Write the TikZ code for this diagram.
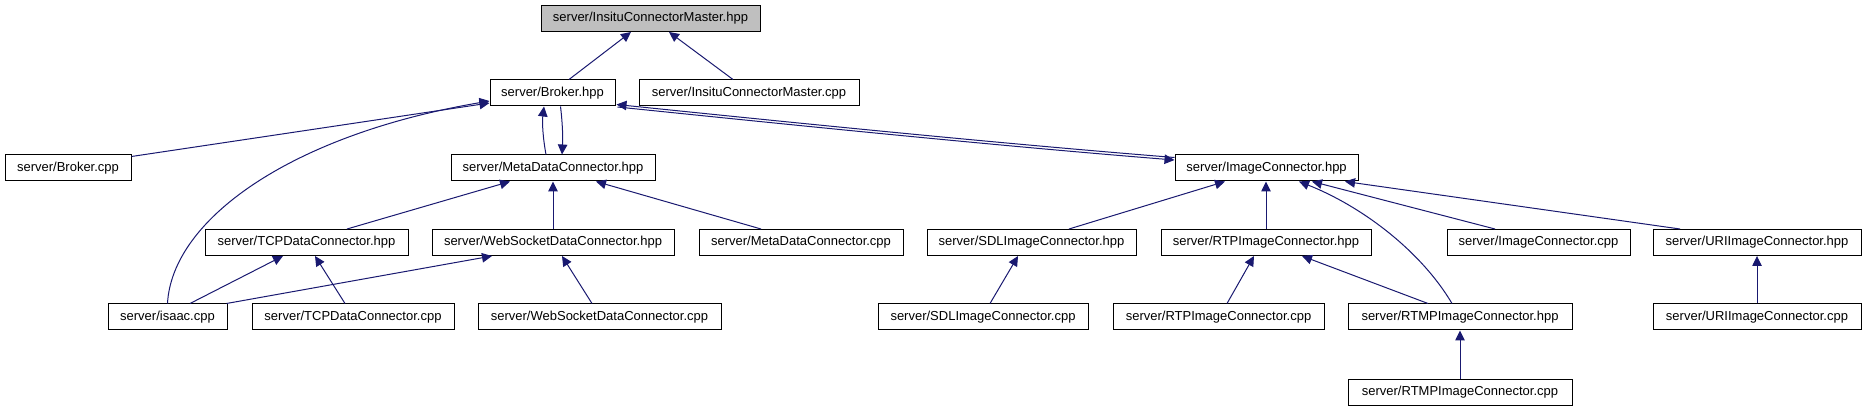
\documentclass[tikz,border=0pt]{standalone}
\usepackage{fontspec}
\setmainfont{Liberation Sans}
\usetikzlibrary{arrows.meta,calc}
\definecolor{edgeblue}{HTML}{191970}
\definecolor{rootgray}{HTML}{BFBFBF}
\begin{document}
\begin{tikzpicture}[x=1pt,y=-1pt,
  box/.style={draw=black, line width=1pt, fill=white, minimum height=26pt, inner sep=0pt, font=\fontsize{13}{15}\selectfont},
  edge/.style={draw=edgeblue, line width=1pt, -{Triangle[length=10pt,width=9.5pt]}}]
\useasboundingbox (0,0) rectangle (1865,411);
% row 1
\node[box,fill=rootgray,minimum width=219pt] (icmh) at (650.5,18.5) {server/InsituConnectorMaster.hpp};
% row 2
\node[box,minimum width=125pt] (brokerh) at (552.5,93) {server/Broker.hpp};
\node[box,minimum width=220pt] (icmc) at (749,93) {server/InsituConnectorMaster.cpp};
% row 3
\node[box,minimum width=126pt] (brokerc) at (68,168) {server/Broker.cpp};
\node[box,minimum width=204pt] (mdch) at (553,168) {server/MetaDataConnector.hpp};
\node[box,minimum width=183pt] (ich) at (1266.5,168) {server/ImageConnector.hpp};
% row 4
\node[box,minimum width=203pt] (tcph) at (306.5,242.5) {server/TCPDataConnector.hpp};
\node[box,minimum width=242pt] (wsh) at (553,242.5) {server/WebSocketDataConnector.hpp};
\node[box,minimum width=204pt] (mdcc) at (801,242.5) {server/MetaDataConnector.cpp};
\node[box,minimum width=209pt] (sdlh) at (1031.5,242.5) {server/SDLImageConnector.hpp};
\node[box,minimum width=210pt] (rtph) at (1266,242.5) {server/RTPImageConnector.hpp};
\node[box,minimum width=183pt] (icc) at (1538.5,242.5) {server/ImageConnector.cpp};
\node[box,minimum width=208pt] (urih) at (1757,242.5) {server/URIImageConnector.hpp};
% row 5
\node[box,minimum width=119pt] (isaac) at (167.5,317) {server/isaac.cpp};
\node[box,minimum width=202pt] (tcpc) at (353,317) {server/TCPDataConnector.cpp};
\node[box,minimum width=243pt] (wsc) at (599.5,317) {server/WebSocketDataConnector.cpp};
\node[box,minimum width=210pt] (sdlc) at (983,317) {server/SDLImageConnector.cpp};
\node[box,minimum width=211pt] (rtpc) at (1218.5,317) {server/RTPImageConnector.cpp};
\node[box,minimum width=224pt] (rtmph) at (1460,317) {server/RTMPImageConnector.hpp};
\node[box,minimum width=208pt] (uric) at (1757,317) {server/URIImageConnector.cpp};
% row 6
\node[box,minimum width=224pt] (rtmpc) at (1460,392) {server/RTMPImageConnector.cpp};
% edges
\draw[edge] ($(brokerh.north)+(16.5,0)$) -- ($(icmh.south)+(-19.5,0)$);
\draw[edge] ($(icmc.north)+(-16,0)$) -- ($(icmh.south)+(18.5,0)$);
\draw[edge] ($(brokerc.north east)+(0,2)$) -- ($(brokerh.west)+(0,10)$);
\draw[edge] (isaac.north) .. controls (172,220) and (290,135) .. ($(brokerh.west)+(0,8)$);
\draw[edge] ($(mdch.north)+(-7,0)$) .. controls +(-3,-16) and +(-2,16) .. ($(brokerh.south)+(-8.5,0)$);
\draw[edge] ($(brokerh.south)+(8,0)$) .. controls +(2,16) and +(1,-16) .. ($(mdch.north)+(9,0)$);
\draw[edge] ($(ich.west)+(0,-10.5)$) .. controls +(-175,-14) and +(185,19) .. ($(brokerh.south east)+(1,-2)$);
\draw[edge] ($(brokerh.south east)+(2,0.5)$) .. controls +(185,19) and +(-175,-14) .. ($(ich.west)+(0,-8)$);
\draw[edge] ($(tcph.north)+(40.5,0)$) -- ($(mdch.south)+(-43,0)$);
\draw[edge] (wsh.north) -- (mdch.south);
\draw[edge] ($(mdcc.north)+(-40,0)$) -- ($(mdch.south)+(43,0)$);
\draw[edge] ($(isaac.north)+(22.5,0)$) -- ($(tcph.south)+(-23.5,0)$);
\draw[edge] ($(tcpc.north)+(-8,0)$) -- ($(tcph.south)+(8.5,0)$);
\draw[edge] ($(isaac.north east)+(-1,0)$) -- ($(wsh.south)+(-61,0)$);
\draw[edge] ($(wsc.north)+(-7.5,0)$) -- ($(wsh.south)+(9,0)$);
\draw[edge] ($(sdlh.north)+(37.5,0)$) -- ($(ich.south)+(-41.5,0)$);
\draw[edge] (rtph.north) -- ($(ich.south)+(-0.5,0)$);
\draw[edge] ($(rtmph.north)+(-8,0)$) .. controls +(-32,-54) and +(61,24) .. ($(ich.south)+(32.5,0)$);
\draw[edge] ($(icc.north)+(-43.5,0)$) -- ($(ich.south)+(45.5,0)$);
\draw[edge] ($(urih.north)+(-77,0)$) -- ($(ich.south)+(78.5,0)$);
\draw[edge] ($(sdlc.north)+(7,0)$) -- ($(sdlh.south)+(-13.5,0)$);
\draw[edge] ($(rtpc.north)+(8.5,0)$) -- ($(rtph.south)+(-12,0)$);
\draw[edge] ($(rtmph.north)+(-32,0)$) -- ($(rtph.south)+(36,0)$);
\draw[edge] (uric.north) -- (urih.south);
\draw[edge] (rtmpc.north) -- (rtmph.south);
\end{tikzpicture}
\end{document}
